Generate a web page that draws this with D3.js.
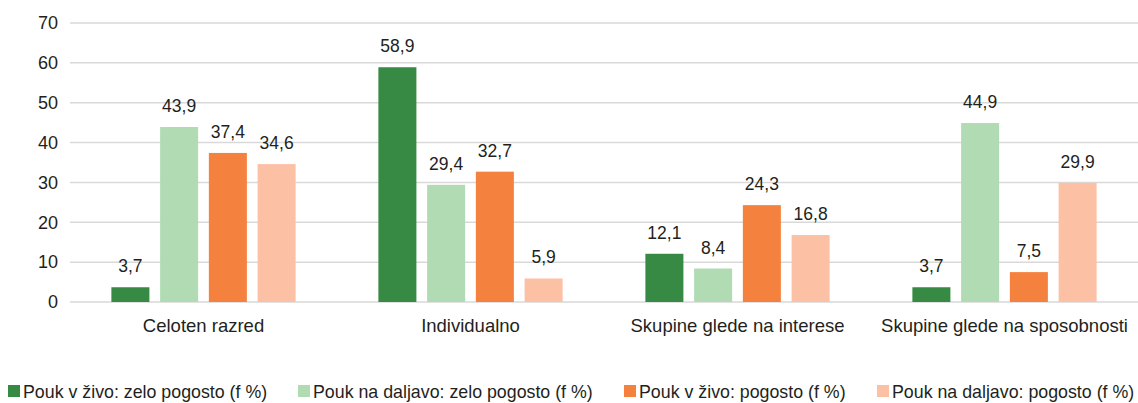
<!DOCTYPE html>
<html>
<head>
<meta charset="utf-8">
<script src="https://cdn.jsdelivr.net/npm/d3@7"></script>
<style>
  body { margin: 0; background: #fff; }
  text { font-family: "Liberation Sans", sans-serif; fill: #231f20; }
</style>
</head>
<body>
<svg id="chart" width="1138" height="403"></svg>
<script>
// categories and series
var categories = ["Celoten razred", "Individualno", "Skupine glede na interese", "Skupine glede na sposobnosti"];
var seriesNames = [
    "Pouk v živo: zelo pogosto (f %)",
    "Pouk na daljavo: zelo pogosto (f %)",
    "Pouk v živo: pogosto (f %)",
    "Pouk na daljavo: pogosto (f %)"
];
var zivoZeloPogosto    = [3.7, 58.9, 12.1, 3.7];
var daljavoZeloPogosto = [43.9, 29.4, 8.4, 44.9];
var zivoPogosto        = [37.4, 32.7, 24.3, 7.5];
var daljavoPogosto     = [34.6, 5.9, 16.8, 29.9];
var yTicks = [0, 10, 20, 30, 40, 50, 60, 70];
var colors = ["#368a44", "#b0dbb3", "#f5813e", "#fcc0a4"];

var seriesValues = [zivoZeloPogosto, daljavoZeloPogosto, zivoPogosto, daljavoPogosto];

var svg = d3.select("#chart");
var plotLeft = 70, plotRight = 1138, plotTop = 23, plotBottom = 302;

var x0 = d3.scaleBand().domain(categories).range([plotLeft, plotRight]).paddingInner(0.31).paddingOuter(0.155);
var x1 = d3.scaleBand().domain(d3.range(seriesNames.length)).range([0, x0.bandwidth()]).paddingInner(0.22);
var y = d3.scaleLinear().domain([0, 70]).range([plotBottom, plotTop]);

// grid lines
svg.append("g")
    .selectAll("line")
    .data(yTicks)
    .enter()
    .append("line")
    .attr("x1", plotLeft).attr("x2", plotRight)
    .attr("y1", function(d) { return y(d); })
    .attr("y2", function(d) { return y(d); })
    .attr("stroke", "#d9d9d9")
    .attr("stroke-width", 1.5);

// y axis labels
var yAxis = d3.axisLeft(y).tickValues(yTicks).tickSize(0).tickPadding(12);
svg.append("g")
    .attr("transform", "translate(" + plotLeft + ",0)")
    .call(yAxis)
    .call(function(g) { g.select(".domain").remove(); })
    .selectAll("text")
    .style("font-family", "\"Liberation Sans\", sans-serif")
    .style("font-size", "18px")
    .attr("fill", "#231f20");

// bars
function cells(d, i) {
    return seriesValues.map(function(s, j) { return {series: j, value: s[i]}; });
}

var groups = svg.append("g")
    .selectAll("g")
    .data(categories)
    .enter()
    .append("g")
    .attr("transform", function(d) { return "translate(" + x0(d) + ",0)"; });

groups.selectAll("rect")
    .data(cells)
    .enter()
    .append("rect")
    .attr("x", function(d) { return x1(d.series); })
    .attr("y", function(d) { return y(d.value); })
    .attr("width", x1.bandwidth())
    .attr("height", function(d) { return y(0) - y(d.value); })
    .attr("fill", function(d) { return colors[d.series]; });

groups.selectAll("text.value")
    .data(cells)
    .enter()
    .append("text")
    .attr("class", "value")
    .attr("x", function(d) { return x1(d.series) + x1.bandwidth() / 2; })
    .attr("y", function(d) { return y(d.value) - 15; })
    .attr("text-anchor", "middle")
    .style("font-size", "17.5px")
    .text(function(d) { return d.value.toFixed(1).replace(".", ","); });

// category labels
var xAxis = d3.axisBottom(x0).tickSize(0).tickPadding(17);
svg.append("g")
    .attr("transform", "translate(0," + plotBottom + ")")
    .call(xAxis)
    .call(function(g) { g.select(".domain").remove(); })
    .selectAll("text")
    .style("font-family", "\"Liberation Sans\", sans-serif")
    .style("font-size", "18.5px")
    .attr("fill", "#231f20");

// legend
var legendX = [8, 298, 624, 877];
var legend = svg.append("g")
    .selectAll("g")
    .data(seriesNames)
    .enter()
    .append("g")
    .attr("transform", function(d, i) { return "translate(" + legendX[i] + ",385)"; });

legend.append("rect")
    .attr("width", 12).attr("height", 12)
    .attr("fill", function(d, i) { return colors[i]; });

legend.append("text")
    .attr("x", 15)
    .attr("y", 13)
    .style("font-size", "17.8px")
    .text(function(d) { return d; });
</script>
</body>
</html>
